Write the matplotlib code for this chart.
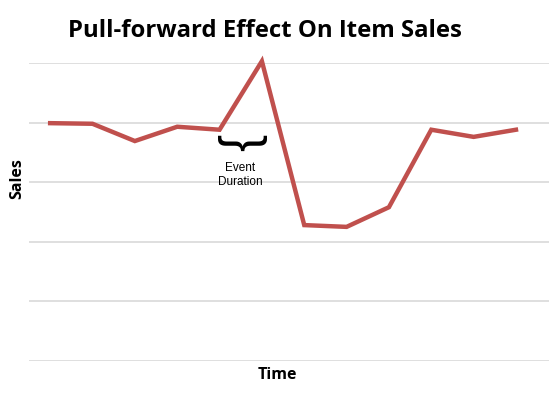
import matplotlib
matplotlib.use("Agg")
import matplotlib.pyplot as plt

# Period index along the time axis and the sales level at each point
periods = list(range(12))
sales = [39.9, 39.8, 36.9, 39.3, 38.8, 50.3, 22.8, 22.5, 25.8, 38.8, 37.6, 38.8]
grid_levels = [0, 10, 20, 30, 40, 50]

LINE_RED = "#C0504D"
plt.rcParams['font.family'] = ['Open Sans', 'DejaVu Sans']

fig = plt.figure(figsize=(5.49, 3.96), dpi=100)
ax = fig.add_axes([0.0528, 0.0884, 0.9472, 0.7526])

for lvl in grid_levels:
    ax.axhline(lvl, color="#d9d9d9", linewidth=1.2, zorder=0)

ax.plot(periods, sales, color=LINE_RED, linewidth=3.2, clip_on=False,
        solid_joinstyle="miter", zorder=3)

ax.set_xlim(-0.5, 11.78)
ax.set_ylim(0, 50)
for s in ax.spines.values():
    s.set_visible(False)
ax.set_xticks([])
ax.set_yticks([])

# event duration marker between periods 4 and 5
ax.text(4.54, 36.6, "{", rotation=90, ha="center", va="center",
        fontsize=37, color="black", family=["Liberation Sans"])
ax.text(4.49, 31.2, "Event\nDuration", ha="center", va="center",
        fontsize=8.5, linespacing=1.25, color="black",
        family=["Liberation Sans"])

fig.text(0.483, 0.922, "Pull-forward Effect On Item Sales", ha="center",
         va="center", fontsize=17.2, fontweight="bold")
fig.text(0.031, 0.55, "Sales", rotation=90, ha="center", va="center",
         fontsize=11.5, fontweight="bold")
fig.text(0.505, 0.053, "Time", ha="center", va="center",
         fontsize=11.5, fontweight="bold")

fig.savefig("out.png", dpi=100)
